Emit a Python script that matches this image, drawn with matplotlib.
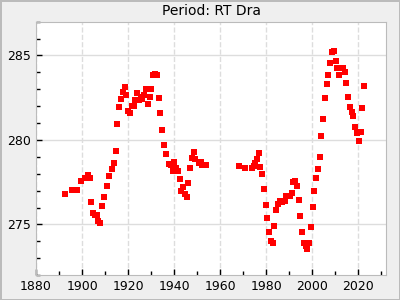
import matplotlib
matplotlib.use("Agg")
import matplotlib.pyplot as plt
from matplotlib.ticker import MultipleLocator

title = "Period: RT Dra"

years = [1892.7, 1895.5, 1896.7, 1897.8, 1899.7, 1901.1, 1902.6, 1903.4, 1903.9, 1904.8,
         1905.7, 1906.5, 1907.0, 1907.8, 1908.7, 1909.6, 1910.9, 1911.7, 1913.0, 1913.9,
         1914.8, 1915.2, 1916.1, 1917.0, 1917.9, 1918.7, 1919.1, 1920.0, 1920.9, 1921.7,
         1922.6, 1923.0, 1923.9, 1924.8, 1925.6, 1926.1, 1927.0, 1927.8, 1928.7, 1929.1,
         1929.6, 1930.0, 1930.9, 1931.7, 1932.6, 1933.5, 1933.9, 1934.8, 1935.7, 1936.5,
         1937.8, 1938.7, 1939.5, 1940.0, 1940.9, 1941.7, 1942.6, 1943.0, 1943.9, 1944.8,
         1945.6, 1946.1, 1947.0, 1947.8, 1948.7, 1949.1, 1950.9, 1951.7, 1952.2, 1953.0,
         1953.9,
         1968.3, 1970.9, 1973.9, 1974.8, 1975.2, 1976.1, 1977.0, 1977.4, 1978.3, 1979.1,
         1980.0, 1980.4, 1981.3, 1982.2, 1983.0, 1983.5, 1984.3, 1985.2, 1986.1, 1987.0,
         1988.3, 1988.7, 1989.6, 1990.4, 1991.3, 1991.7, 1992.6, 1993.5, 1994.3, 1994.8,
         1995.7, 1996.6, 1997.4, 1997.8, 1998.7, 1999.6, 2000.4, 2000.9, 2001.7, 2002.6,
         2003.5, 2003.9, 2004.8, 2005.7, 2006.5, 2007.0, 2007.8, 2008.7, 2009.6, 2010.4,
         2010.9, 2011.7, 2012.2, 2013.5, 2014.3, 2014.8, 2015.7, 2016.5, 2017.4, 2017.8,
         2018.7, 2019.6, 2020.4, 2021.3, 2021.7, 2022.6]

period = [276.82, 277.05, 277.05, 277.05, 277.58, 277.72, 277.94, 277.72, 276.34, 275.65,
          275.57, 275.57, 275.18, 275.10, 276.07, 276.60, 277.25, 277.88, 278.25, 278.65,
          279.36, 280.96, 281.96, 282.44, 282.85, 283.15, 282.67, 281.73, 281.61, 282.02,
          282.02, 282.38, 282.79, 282.38, 282.56, 282.44, 282.67, 283.03, 282.14, 283.03,
          282.56, 283.03, 283.82, 283.92, 283.82, 282.50, 281.61, 280.60, 279.72, 279.18,
          278.59, 278.53, 278.18, 278.71, 278.35, 278.18, 277.70, 277.00, 277.19, 276.82,
          276.64, 277.47, 278.35, 278.95, 279.30, 278.89, 278.65, 278.71, 278.53, 278.53,
          278.53,
          278.47, 278.35, 278.35, 278.47, 278.65, 278.89, 279.24, 278.41, 278.00, 277.11,
          276.17, 275.40, 274.57, 274.04, 273.92, 274.92, 275.87, 276.22, 276.40, 276.34,
          276.40, 276.70, 276.70, 276.70, 276.88, 277.53, 277.59, 277.29, 276.46, 275.51,
          274.57, 273.92, 273.74, 273.56, 273.92, 274.86, 276.05, 277.00, 277.76, 278.30,
          279.00, 280.25, 281.25, 282.50, 283.33, 283.86, 284.57, 285.22, 285.28, 284.69,
          284.27, 283.86, 284.27, 284.27, 284.04, 283.38, 282.56, 281.96, 281.67, 281.43,
          280.78, 280.43, 279.95, 280.49, 281.90, 283.20]

fig = plt.figure(figsize=(4, 3), dpi=100, facecolor="#efefef",
                 edgecolor="#bbbbbb", linewidth=2)
ax = fig.add_axes([0.09, 0.083, 0.875, 0.845])
ax.set_facecolor("white")

ax.plot(years, period, "s", color="red", markersize=4.2, markeredgewidth=0)

ax.set_xlim(1880, 2032)
ax.set_ylim(272, 287)
ax.xaxis.set_major_locator(MultipleLocator(20))
ax.xaxis.set_minor_locator(MultipleLocator(10))
ax.yaxis.set_major_locator(MultipleLocator(5))
ax.yaxis.set_minor_locator(MultipleLocator(1))

ax.grid(True, axis="x", which="major", color="#dddddd", linestyle="--", linewidth=1)
ax.grid(True, axis="y", which="major", color="#dddddd", linestyle="-", linewidth=1)
ax.set_axisbelow(True)

ax.tick_params(which="both", direction="in", labelsize=9, color="black")
ax.tick_params(which="major", length=4, width=1)
ax.tick_params(which="minor", length=3, width=1)
for s in ax.spines.values():
    s.set_color("#bbbbbb")

ax.set_title(title, fontsize=10, pad=5)

plt.savefig("out.png", dpi=100, facecolor=fig.get_facecolor(), edgecolor=fig.get_edgecolor())
